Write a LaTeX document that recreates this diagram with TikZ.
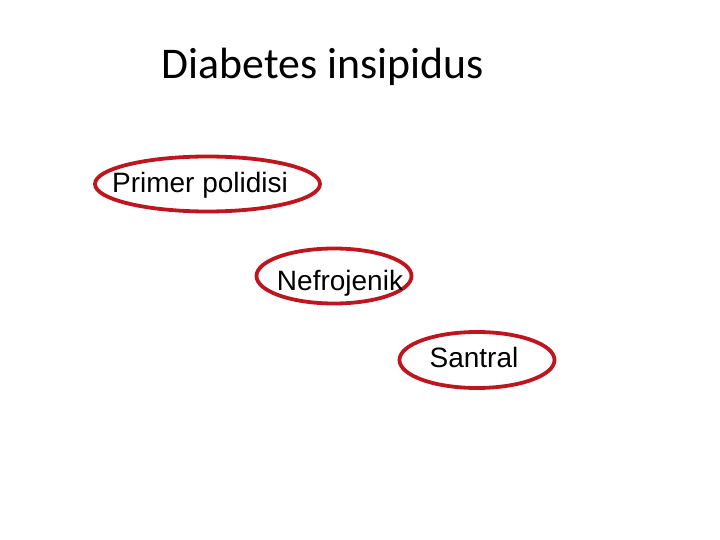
\documentclass[tikz,border=0pt]{standalone}
\usepackage{fontspec}
\setmainfont{Liberation Sans}
\newfontfamily\titlefont{Carlito}
\usetikzlibrary{shapes.geometric}
\definecolor{ovalred}{RGB}{190,22,30}
\begin{document}
\begin{tikzpicture}[x=1pt,y=-1pt,
  oval/.style={draw=ovalred, line width=3.8pt, ellipse, inner sep=0pt},
  lbl/.style={inner sep=0pt, font=\fontsize{28}{32}\selectfont, anchor=base},
  ttl/.style={inner sep=0pt, font=\titlefont\fontsize{43.8}{50}\selectfont, anchor=base}]
\useasboundingbox (0,0) rectangle (720,540);
\node[ttl] (title) at (323,79) {Diabetes insipidus};
\node[oval, minimum width=225pt, minimum height=55pt] (e1) at (207.5,184) {};
\node[lbl] (t1) at (200,193) {Primer polidisi};
\node[oval, minimum width=155pt, minimum height=55pt] (e2) at (334,276) {};
\node[lbl] (t2) at (340,290) {Nefrojenik};
\node[oval, minimum width=155pt, minimum height=56pt] (e3) at (477,360) {};
\node[lbl] (t3) at (474,367) {Santral};
\end{tikzpicture}
\end{document}
